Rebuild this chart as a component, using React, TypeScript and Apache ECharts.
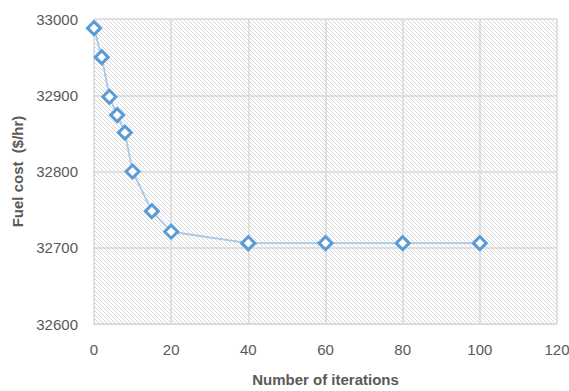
import React, { useEffect, useRef } from "react";
import * as echarts from "echarts";

const iterations = [0, 2, 4, 6, 8, 10, 15, 20, 40, 60, 80, 100];
const fuelCost = [32988, 32950, 32898, 32874, 32851, 32800, 32748, 32721, 32706, 32706, 32706, 32706];
const xTitle = "Number of iterations";
const yTitle = "Fuel cost  ($/hr)";

const hatchSvg =
  "<svg xmlns='http://www.w3.org/2000/svg' width='4' height='4'>" +
  "<rect width='4' height='4' fill='#ffffff'/>" +
  "<path d='M-1,-1 L5,5 M3,-1 L5,1 M-1,3 L1,5' stroke='#d4d4d4' stroke-width='0.9'/></svg>";
const hatchUrl = "data:image/svg+xml;charset=utf-8," + encodeURIComponent(hatchSvg);

const FONT = "'Liberation Sans', Arial, sans-serif";

export default function App() {
  const ref = useRef<HTMLDivElement>(null);
  useEffect(() => {
    if (!ref.current) return;
    const chart = echarts.init(ref.current, null, { renderer: "svg" });
    chart.setOption({
      animation: false,
      grid: {
        show: true,
        left: 94,
        right: 12,
        top: 19,
        bottom: 67,
        outerBoundsMode: "none",
        containLabel: false,
        backgroundColor: { image: hatchUrl, repeat: "repeat" } as any,
        borderWidth: 0,
      },
      xAxis: {
        type: "value",
        min: 0,
        max: 120,
        interval: 20,
        name: xTitle,
        nameLocation: "middle",
        nameGap: 48,
        nameTextStyle: { fontFamily: FONT, fontSize: 15, fontWeight: "bold", color: "#595959" },
        axisLine: { show: true, lineStyle: { color: "#d9d9d9", width: 1 } },
        axisTick: { show: false },
        axisLabel: { fontFamily: FONT, fontSize: 15, color: "#595959", margin: 18 },
        splitLine: { show: true, lineStyle: { color: "#d9d9d9", width: 1.5 } },
      },
      yAxis: {
        type: "value",
        min: 32600,
        max: 33000,
        interval: 100,
        name: yTitle,
        nameLocation: "middle",
        nameGap: 64,
        nameRotate: 90,
        nameTextStyle: { fontFamily: FONT, fontSize: 15, fontWeight: "bold", color: "#595959" },
        axisLine: { show: true, lineStyle: { color: "#d9d9d9", width: 1 } },
        axisTick: { show: false },
        axisLabel: {
          fontFamily: FONT,
          fontSize: 15,
          color: "#595959",
          margin: 16,
          formatter: (v: number) => String(v),
        },
        splitLine: { show: true, lineStyle: { color: "#d9d9d9", width: 1.5 } },
      },
      series: [
        {
          type: "line",
          data: iterations.map((x, i) => [x, fuelCost[i]]),
          symbol: "diamond",
          symbolSize: 13,
          lineStyle: { color: "#a6c8ea", width: 1.8 },
          itemStyle: { color: "#ffffff", borderColor: "#5b9bd5", borderWidth: 3 },
        },
      ],
    });
    return () => chart.dispose();
  }, []);
  return <div ref={ref} style={{ width: 569, height: 391, position: "absolute", left: 0, top: 0 }} />;
}
